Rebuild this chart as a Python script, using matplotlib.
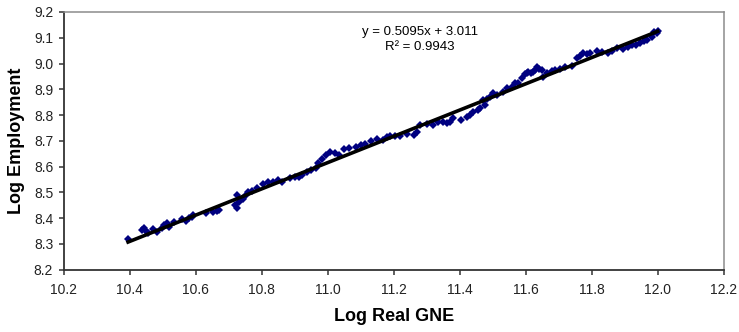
import matplotlib.pyplot as plt
import matplotlib as mpl
import numpy as np
from matplotlib.ticker import FormatStrFormatter, MultipleLocator

# log real GNE vs log employment
log_gne = [
    10.395, 10.436, 10.443, 10.448, 10.456, 10.470, 10.482, 10.497, 10.505, 10.512,
    10.520, 10.534, 10.558, 10.571, 10.580, 10.588, 10.591, 10.632, 10.653, 10.664,
    10.671, 10.719, 10.724, 10.726, 10.730, 10.744, 10.752, 10.759, 10.770, 10.785,
    10.805, 10.820, 10.835, 10.850, 10.861, 10.886, 10.900, 10.914, 10.921, 10.936,
    10.950, 10.965, 10.972, 10.982, 10.995, 11.007, 11.022, 11.035, 11.049, 11.065,
    11.086, 11.100, 11.113, 11.130, 11.149, 11.169, 11.181, 11.189, 11.205, 11.220,
    11.240, 11.260, 11.270, 11.280, 11.300, 11.320, 11.335, 11.350, 11.360, 11.370,
    11.380, 11.405, 11.421, 11.430, 11.441, 11.456, 11.461, 11.470, 11.477, 11.483,
    11.492, 11.500, 11.512, 11.530, 11.542, 11.557, 11.568, 11.577, 11.590, 11.598,
    11.603, 11.608, 11.615, 11.623, 11.628, 11.633, 11.640, 11.648, 11.653, 11.665,
    11.679, 11.690, 11.704, 11.720, 11.739, 11.755, 11.765, 11.775, 11.785, 11.795,
    11.815, 11.830, 11.850, 11.863, 11.876, 11.896, 11.910, 11.921, 11.935, 11.946,
    11.957, 11.967, 11.982, 11.990, 11.997, 12.000,
]
log_emp = [
    8.319, 8.354, 8.360, 8.350, 8.341, 8.358, 8.347, 8.360, 8.372, 8.380,
    8.367, 8.386, 8.395, 8.390, 8.400, 8.403, 8.412, 8.419, 8.425, 8.428,
    8.432, 8.451, 8.490, 8.438, 8.462, 8.473, 8.488, 8.503, 8.505, 8.516,
    8.533, 8.542, 8.540, 8.548, 8.542, 8.555, 8.560, 8.561, 8.567, 8.580,
    8.585, 8.594, 8.613, 8.628, 8.645, 8.658, 8.652, 8.645, 8.667, 8.672,
    8.677, 8.683, 8.688, 8.698, 8.706, 8.703, 8.716, 8.720, 8.718, 8.720,
    8.727, 8.723, 8.735, 8.761, 8.765, 8.761, 8.772, 8.774, 8.768, 8.774,
    8.787, 8.781, 8.794, 8.800, 8.813, 8.820, 8.826, 8.859, 8.839, 8.862,
    8.871, 8.884, 8.878, 8.891, 8.904, 8.910, 8.923, 8.923, 8.945, 8.958,
    8.962, 8.968, 8.962, 8.968, 8.975, 8.988, 8.978, 8.975, 8.949, 8.962,
    8.970, 8.975, 8.978, 8.985, 8.990, 9.020, 9.030, 9.040, 9.038, 9.040,
    9.050, 9.045, 9.040, 9.050, 9.059, 9.058, 9.066, 9.072, 9.070, 9.080,
    9.086, 9.091, 9.104, 9.124, 9.117, 9.128,
]

# linear trendline as reported on the chart
slope, intercept = 0.5095, 3.011
r2 = 0.9943


def main():
    plt.rcParams['font.family'] = ['Liberation Sans', 'DejaVu Sans']
    plt.rcParams['font.size'] = 10

    fig = plt.figure(figsize=(7.39, 3.32), dpi=100)
    ax = fig.add_axes([0.0862, 0.1877, 0.8931, 0.7762])

    ax.plot(log_gne, log_emp, linestyle='none', marker='D', markersize=3.9,
            color='#000080', markeredgewidth=0, zorder=2)

    xs = np.array([min(log_gne), max(log_gne)])
    ax.plot(xs, slope * xs + intercept, color='black', linewidth=2.6, zorder=3)

    # trendline annotation, two lines like excel puts it
    ax.text(11.28, 9.122, f'y = {slope}x + {intercept}', ha='center', va='center',
            fontsize=9.5)
    ax.text(11.28, 9.066, f'R² = {r2}', ha='center', va='center', fontsize=9.5)

    ax.set_xlim(10.2, 12.2)
    ax.set_ylim(8.2, 9.2)
    ax.xaxis.set_major_locator(MultipleLocator(0.2))
    ax.yaxis.set_major_locator(MultipleLocator(0.1))
    ax.xaxis.set_major_formatter(FormatStrFormatter('%.1f'))
    ax.yaxis.set_major_formatter(FormatStrFormatter('%.1f'))

    ax.tick_params(axis='both', direction='out', length=3.6, width=1.1,
                   color='#333333', labelsize=10, labelcolor='#222222')
    ax.tick_params(axis='x', pad=6)
    ax.tick_params(axis='y', pad=4)

    for side in ['left', 'bottom']:
        ax.spines[side].set_color('#333333')
        ax.spines[side].set_linewidth(1.3)
    for side in ['top', 'right']:
        ax.spines[side].set_color('#8c8c8c')
        ax.spines[side].set_linewidth(1.1)

    ax.set_xlabel('Log Real GNE', fontsize=13, fontweight='bold', labelpad=8)
    ax.set_ylabel('Log Employment', fontsize=13, fontweight='bold', labelpad=6)

    fig.savefig('out.png', dpi=100)


if __name__ == '__main__':
    main()
